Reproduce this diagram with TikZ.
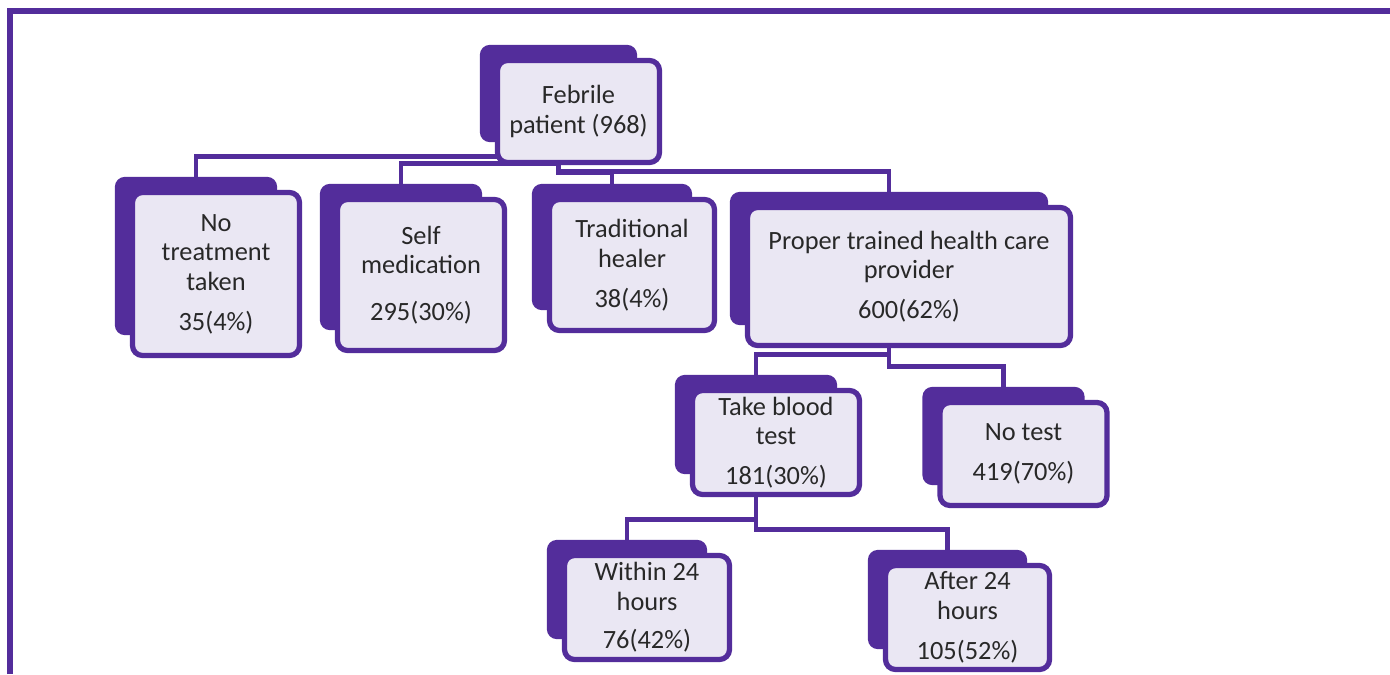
\documentclass[tikz,border=0pt]{standalone}
\usepackage{fontspec}
\setmainfont{Carlito}
\usetikzlibrary{positioning,fit,backgrounds}

\definecolor{purp}{RGB}{83,45,155}
\definecolor{lav}{RGB}{234,231,243}
\definecolor{ink}{RGB}{40,40,40}

\begin{document}
\begin{tikzpicture}[node distance=2cm, on grid,
		box/.style={draw=purp, line width=3pt, fill=lav, rounded corners=0.2cm, align=center, text=ink,
			inner sep=0pt, minimum width=3.34cm, font=\fontsize{15}{16.8}\selectfont},
		back/.style={fill=purp, rounded corners=0.2cm, inner sep=0pt},
		link/.style={draw=purp, line width=2.8pt}]
		\useasboundingbox (0,0) rectangle (27.8,-13.48);
		\draw[purp, line width=3pt]	(0.2,-13.48) -- (0.2,-0.22) -- (27.8,-0.22);
		
		\node[box, minimum width=3.24cm, minimum height=2.04cm]	(fp)	at (11.57,-2.23)					{Febrile\\patient (968)};
		
		\node[box, minimum height=3.26cm]	(nt)	[below left=3.25cm and 7.25cm of fp]		{No\\treatment\\taken\\[6pt]35(4\%)};
		\node[box, minimum height=3.02cm]	(sm)	[below left=3.27cm and 3.15cm of fp]		{Self\\medication\\[10pt]295(30\%)};
		\node[box, minimum width=3.3cm, minimum height=2.62cm]	(th)	[below right=3.07cm and 1.07cm of fp]		{Traditional\\healer\\[6pt]38(4\%)};
		\node[box, minimum width=6.46cm, minimum height=2.76cm]	(pp)	[below right=3.3cm and 6.61cm of fp]	{Proper trained health care\\provider\\[6pt]600(62\%)};
		
		\node[box, minimum height=2.08cm]	(bt)	[below left=3.32cm and 2.66cm of pp]		{Take blood\\test\\[6pt]181(30\%)};
		\node[box, minimum height=2.06cm]	(nt2)	[below right=3.55cm and 2.29cm of pp]		{No test\\[6pt]419(70\%)};
		
		\node[box, minimum width=3.3cm, minimum height=2.08cm]	(w24)	[below left=3.3cm and 2.58cm of bt]		{Within 24\\hours\\[5pt]76(42\%)};
		\node[box, minimum width=3.28cm, minimum height=2.08cm]	(a24)	[below right=3.5cm and 3.83cm of bt]		{After 24\\hours\\[6pt]105(52\%)};
		
		\begin{pgfonlayer}{background}
			% dark plates behind the boxes
			\foreach \n in {fp,nt,sm,th,pp,bt,nt2,w24,a24}
				\node[back, fit={([shift={(-0.3,0.26)}]\n.north west) ([shift={(-0.5,0.46)}]\n.south east)}] (\n-s) {};
			
			\draw[link]	(fp-s.south) |- ([yshift=4mm]nt-s.north) -- (nt-s.north);
			\draw[link]	(fp-s.south) |- ([yshift=4mm]sm-s.north) -- (sm-s.north);
			\draw[link]	(fp-s.south) |- ([yshift=2.2mm]th-s.north) -- (th-s.north);
			\draw[link]	(fp-s.south) |- ([yshift=4mm]pp-s.north) -- (pp-s.north);
			\draw[link]	(pp-s.south) |- ([yshift=4mm]bt-s.north) -- (bt-s.north);
			\draw[link]	(pp-s.south) |- ([yshift=4mm]nt2-s.north) -- (nt2-s.north);
			\draw[link]	(bt-s.south) |- ([yshift=4mm]w24-s.north) -- (w24-s.north);
			\draw[link]	(bt-s.south) |- ([yshift=4mm]a24-s.north) -- (a24-s.north);
		\end{pgfonlayer}
	\end{tikzpicture}
\end{document}
